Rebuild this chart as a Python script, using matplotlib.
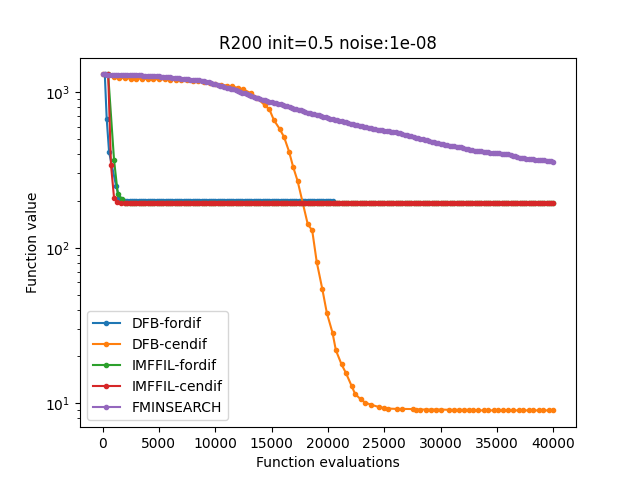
import matplotlib
matplotlib.use("Agg")
import matplotlib.pyplot as plt

labels = ["DFB-fordif", "DFB-cendif", "IMFFIL-fordif", "IMFFIL-cendif", "FMINSEARCH"]

# evaluation counts of the long flat phase (read at 200-eval spacing)
flat_x = [2000, 2200, 2400, 2600, 2800, 3000, 3200, 3400, 3600, 3800,
          4000, 4200, 4400, 4600, 4800, 5000, 5200, 5400, 5600, 5800,
          6000, 6200, 6400, 6600, 6800, 7000, 7200, 7400, 7600, 7800,
          8000, 8200, 8400, 8600, 8800, 9000, 9200, 9400, 9600, 9800,
          10000, 10200, 10400, 10600, 10800, 11000, 11200, 11400, 11600, 11800,
          12000, 12200, 12400, 12600, 12800, 13000, 13200, 13400, 13600, 13800,
          14000, 14200, 14400, 14600, 14800, 15000, 15200, 15400, 15600, 15800,
          16000, 16200, 16400, 16600, 16800, 17000, 17200, 17400, 17600, 17800,
          18000, 18200, 18400, 18600, 18800, 19000, 19200, 19400, 19600, 19800,
          20000, 20200, 20400, 20600, 20800, 21000, 21200, 21400, 21600, 21800,
          22000, 22200, 22400, 22600, 22800, 23000, 23200, 23400, 23600, 23800,
          24000, 24200, 24400, 24600, 24800, 25000, 25200, 25400, 25600, 25800,
          26000, 26200, 26400, 26600, 26800, 27000, 27200, 27400, 27600, 27800,
          28000, 28200, 28400, 28600, 28800, 29000, 29200, 29400, 29600, 29800,
          30000, 30200, 30400, 30600, 30800, 31000, 31200, 31400, 31600, 31800,
          32000, 32200, 32400, 32600, 32800, 33000, 33200, 33400, 33600, 33800,
          34000, 34200, 34400, 34600, 34800, 35000, 35200, 35400, 35600, 35800,
          36000, 36200, 36400, 36600, 36800, 37000, 37200, 37400, 37600, 37800,
          38000, 38200, 38400, 38600, 38800, 39000, 39200, 39400, 39600, 39800,
          40000]

# DFB-fordif (stops at 20400 evaluations)
dfb_fd_x = [200, 370, 580, 1200, 1500, 1800] + flat_x[:93]
dfb_fd_y = [1300, 671, 412, 250, 208, 200,
            199, 199, 199, 199, 199, 199, 199, 199, 199, 199,
            199, 199, 199, 199, 199, 199, 199, 199, 199, 199,
            199, 199, 199, 199, 199, 199, 199, 199, 199, 199,
            199, 199, 199, 199, 199, 199, 199, 199, 199, 199,
            199, 199, 199, 199, 199, 199, 199, 199, 199, 199,
            199, 199, 199, 199, 199, 199, 199, 199, 199, 199,
            199, 199, 199, 199, 199, 199, 199, 199, 199, 199,
            199, 199, 199, 199, 199, 199, 199, 199, 199, 199,
            199, 199, 199, 199, 199, 199, 199, 199, 199, 199,
            199, 199, 199]

# DFB-cendif
dfb_cd_x = [0, 500, 1000, 1500, 2000, 2500, 3000, 3500, 4000, 4500,
            5000, 5500, 6000, 6500, 7000, 7500, 8000, 8500, 9000, 9500,
            10000, 10500, 11000, 11500, 12000, 12500, 13200, 13700, 14400, 14800,
            15200, 15700, 16100, 16550, 16900, 17300, 18200, 18600, 19000, 19500,
            19900, 20400, 20700, 21200, 21600, 22100, 22400, 22900, 23300, 23800,
            24500, 25000, 25300, 26100, 26600, 27500, 27800, 28200, 28700, 29100,
            29600, 30000, 30700, 31200, 31600, 32100, 32500, 32900, 33300, 33800,
            34200, 34700, 35100, 35500, 36000, 36400, 36900, 37300, 37800, 38200,
            38700, 39100, 39600, 40000]
dfb_cd_y = [1300, 1285, 1250, 1235, 1228, 1222, 1220, 1218, 1215, 1212,
            1210, 1208, 1205, 1200, 1195, 1188, 1180, 1172, 1162, 1150,
            1135, 1118, 1102, 1088, 1065, 1041, 981, 920, 822, 775,
            661, 582, 515, 414, 332, 269, 142, 129, 81, 54,
            38, 28.4, 21.9, 17.8, 15.6, 12.9, 11.5, 10.6, 10.1, 9.8,
            9.47, 9.33, 9.25, 9.2, 9.2, 9.18, 9.12, 9.12, 9.12, 9.12,
            9.12, 9.12, 9.08, 9.08, 9.08, 9.08, 9.08, 9.05, 9.0, 9.0,
            9.0, 9.0, 9.0, 9.0, 9.0, 9.0, 9.0, 9.0, 9.0, 9.0,
            9.0, 9.0, 9.0, 9.0]

# IMFFIL-fordif
imf_fd_x = [500, 1020, 1350, 1700] + flat_x
imf_fd_y = [1300, 366, 223, 205,
            195, 195, 195, 195, 195, 195, 195, 195, 195, 195,
            195, 195, 195, 195, 195, 195, 195, 195, 195, 195,
            195, 195, 195, 195, 195, 195, 195, 195, 195, 195,
            195, 195, 195, 195, 195, 195, 195, 195, 195, 195,
            195, 195, 195, 195, 195, 195, 195, 195, 195, 195,
            195, 195, 195, 195, 195, 195, 195, 195, 195, 195,
            195, 195, 195, 195, 195, 195, 195, 195, 195, 195,
            195, 195, 195, 195, 195, 195, 195, 195, 195, 195,
            195, 195, 195, 195, 195, 195, 195, 195, 195, 195,
            195, 195, 195, 195, 195, 195, 195, 195, 195, 195,
            195, 195, 195, 195, 195, 195, 195, 195, 195, 195,
            195, 195, 195, 195, 195, 195, 195, 195, 195, 195,
            195, 195, 195, 195, 195, 195, 195, 195, 195, 195,
            195, 195, 195, 195, 195, 195, 195, 195, 195, 195,
            195, 195, 195, 195, 195, 195, 195, 195, 195, 195,
            195, 195, 195, 195, 195, 195, 195, 195, 195, 195,
            195, 195, 195, 195, 195, 195, 195, 195, 195, 195,
            195, 195, 195, 195, 195, 195, 195, 195, 195, 195,
            195, 195, 195, 195, 195, 195, 195, 195, 195, 195,
            195]

# IMFFIL-cendif
imf_cd_x = [500, 750, 1020, 1300, 1600] + flat_x
imf_cd_y = [1300, 340, 209, 198, 195,
            193, 193, 193, 193, 193, 193, 193, 193, 193, 193,
            193, 193, 193, 193, 193, 193, 193, 193, 193, 193,
            193, 193, 193, 193, 193, 193, 193, 193, 193, 193,
            193, 193, 193, 193, 193, 193, 193, 193, 193, 193,
            193, 193, 193, 193, 193, 193, 193, 193, 193, 193,
            193, 193, 193, 193, 193, 193, 193, 193, 193, 193,
            193, 193, 193, 193, 193, 193, 193, 193, 193, 193,
            193, 193, 193, 193, 193, 193, 193, 193, 193, 193,
            193, 193, 193, 193, 193, 193, 193, 193, 193, 193,
            193, 193, 193, 193, 193, 193, 193, 193, 193, 193,
            193, 193, 193, 193, 193, 193, 193, 193, 193, 193,
            193, 193, 193, 193, 193, 193, 193, 193, 193, 193,
            193, 193, 193, 193, 193, 193, 193, 193, 193, 193,
            193, 193, 193, 193, 193, 193, 193, 193, 193, 193,
            193, 193, 193, 193, 193, 193, 193, 193, 193, 193,
            193, 193, 193, 193, 193, 193, 193, 193, 193, 193,
            193, 193, 193, 193, 193, 193, 193, 193, 193, 193,
            193, 193, 193, 193, 193, 193, 193, 193, 193, 193,
            193, 193, 193, 193, 193, 193, 193, 193, 193, 193,
            193]

# FMINSEARCH
fmin_x = [0, 200, 400, 600, 800, 1000, 1200, 1400, 1600, 1800] + flat_x
fmin_y = [1300, 1299, 1298, 1297, 1296, 1295, 1294, 1293, 1292, 1291,
          1290, 1289, 1289, 1288, 1287, 1285, 1284, 1281, 1278, 1275,
          1272, 1270, 1269, 1267, 1264, 1262, 1259, 1256, 1252, 1249,
          1245, 1241, 1236, 1231, 1226, 1220, 1214, 1210, 1207, 1204,
          1200, 1196, 1192, 1189, 1185, 1180, 1168, 1156, 1144, 1132,
          1120, 1110, 1100, 1090, 1080, 1070, 1060, 1050, 1040, 1030,
          1020, 1007, 994, 981, 968, 955, 944, 933, 922, 911,
          900, 892, 884, 876, 868, 860, 857, 851, 845, 838,
          830, 820, 810, 800, 790, 780, 776, 769, 762, 754,
          745, 739, 733, 727, 721, 715, 709, 701, 694, 687,
          680, 675, 670, 665, 660, 655, 650, 645, 639, 633,
          628, 623, 618, 613, 608, 603, 598, 593, 589, 584,
          580, 577, 574, 570, 567, 565, 562, 560, 557, 555,
          552, 547, 543, 538, 534, 530, 525, 520, 515, 510,
          505, 501, 497, 493, 489, 485, 481, 477, 473, 469,
          465, 462, 459, 456, 453, 450, 448, 446, 443, 441,
          438, 434, 431, 427, 424, 420, 419, 417, 416, 414,
          412, 411, 409, 408, 406, 405, 404, 402, 401, 399,
          398, 394, 391, 387, 384, 380, 378, 376, 374, 372,
          370, 369, 368, 367, 366, 365, 364, 362, 361, 360,
          358]

series = [(dfb_fd_x, dfb_fd_y), (dfb_cd_x, dfb_cd_y), (imf_fd_x, imf_fd_y),
          (imf_cd_x, imf_cd_y), (fmin_x, fmin_y)]

fig, ax = plt.subplots(figsize=(6.4, 4.8), dpi=100)
for (xs, ys), lab in zip(series, labels):
    ax.plot(xs, ys, marker=".", label=lab)
ax.set_yscale("log")
ax.set_title("R200 init=0.5 noise:1e-08")
ax.set_xlabel("Function evaluations")
ax.set_ylabel("Function value")
ax.legend(loc="lower left")
fig.savefig("out.png")
